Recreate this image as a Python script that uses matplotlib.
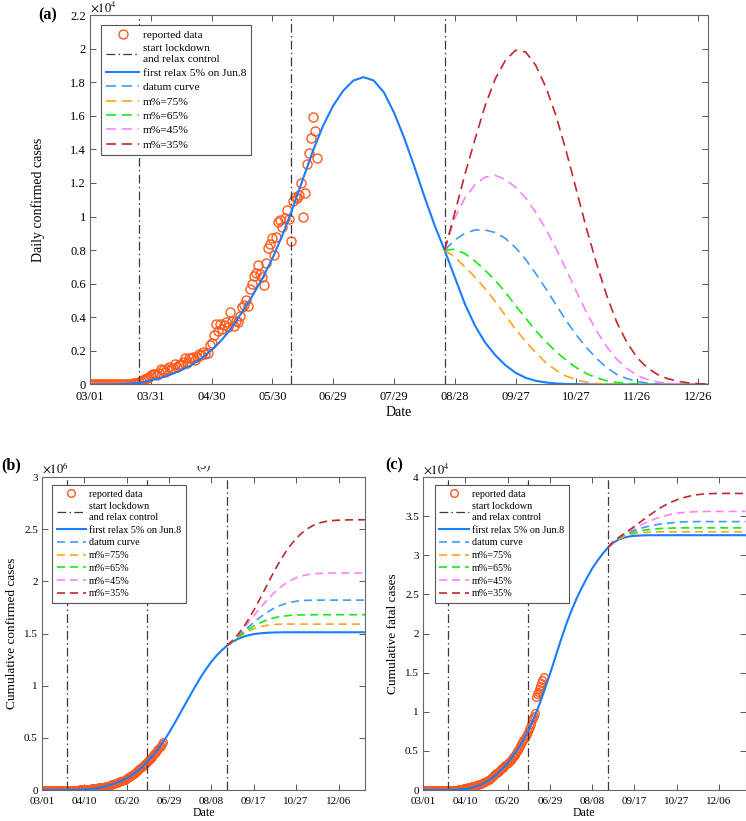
import numpy as np
import matplotlib
matplotlib.use('Agg')
import matplotlib.pyplot as plt
from matplotlib.ticker import FuncFormatter
from matplotlib.transforms import Bbox, TransformedBbox

plt.rcParams['font.family'] = ['Liberation Serif', 'DejaVu Serif']
plt.rcParams['mathtext.fontset'] = 'stix'

# ---------------- data ----------------
# day 0 = 03/01
control_days = [24, 99, 175]          # start lockdown, first relax (Jun.8), relax control

# reported daily confirmed cases, days 0..112
daily_reported = [0, 0, 2, 1, 22, 2, 1, 3, 5, 4, 13, 6, 11, 9, 20, 11, 6, 23, 14, 38,
                  50, 86, 66, 103,
                  120, 190, 250, 300, 400, 450, 550, 600, 600, 550, 700, 900, 850, 750,
                  950, 1050, 900, 1000, 1250, 1050, 1150, 1200, 1350, 1550, 1300, 1550,
                  1600, 1650, 1450, 1650, 1800, 1750, 1950, 1800, 1850, 2350, 2500, 2950,
                  3600, 3200, 3600, 3300, 3550, 3700, 3450, 4300, 3800, 3500, 3800, 3750,
                  4050, 4600, 4750, 5050, 4700, 5700, 6000, 6450, 6650, 7100, 6550, 6400,
                  5900, 7250, 8150, 8350, 8750, 7700, 8800, 9700, 9800, 9400, 9900, 10400,
                  9850, 8550, 10950, 11150, 11100, 11300, 12000, 10000, 11400, 13100,
                  13800, 14700, 15900, 15100, 13500]

# reported cumulative confirmed cases (thousands), days 0..114
cum_confirmed_k = [0.003, 0.003, 0.005, 0.006, 0.028, 0.030, 0.031, 0.034, 0.039, 0.043,
                   0.056, 0.062, 0.073, 0.082, 0.102, 0.113, 0.119, 0.142, 0.156, 0.194,
                   0.244, 0.330, 0.396, 0.499,
                   0.657, 0.727, 0.887, 0.987, 1.024, 1.251, 1.397,
                   2.0, 2.5, 3.0, 3.6, 4.3, 4.8, 5.3, 5.9, 6.7, 7.6, 8.4, 9.2, 10.4, 11.4,
                   12.4, 13.4, 14.4, 15.7, 17.3, 18.6, 20.1, 21.4, 23.1, 24.5, 26.3, 27.9,
                   29.4, 31.3, 33.1, 34.9,
                   37.3, 39.8, 42.5, 46.4, 49.4, 52.9, 56.3, 59.7, 62.9, 67.2, 70.8, 74.3,
                   78.0, 81.9, 85.8, 90.6, 95.7, 100.3, 106.5, 112.0, 118.2, 124.8, 131.4,
                   138.5, 144.9, 150.8, 158.1, 165.8, 173.5, 182.1, 190.5,
                   198.7, 207.6, 216.9, 226.7, 236.7, 246.6, 257.5, 265.9, 276.5, 286.6,
                   297.5, 309.0, 320.9, 332.4, 343.1, 354.1, 367.3, 380.5, 395.0, 410.5,
                   425.3, 440.2, 456.2]

# reported cumulative fatal cases, days 0..114
cum_fatal = [0, 0, 0, 0, 0, 0, 0, 0, 0, 0, 0,
             1, 2, 2, 2, 2, 3, 3, 4, 4, 4, 7, 9, 10, 11, 16, 19, 24, 27, 32, 35,
             41, 56, 62, 83, 109, 124, 149, 169, 206, 242, 273, 308, 339, 377, 414,
             452, 486, 519, 559, 603, 652, 686, 723, 780, 825, 881, 939, 1008, 1079, 1154,
             1223, 1323, 1391, 1568, 1694, 1783, 1886, 1981, 2109, 2206, 2293, 2415,
             2549, 2649, 2752, 2872, 3029, 3163, 3303, 3435, 3583, 3720, 3867, 4021,
             4167, 4337, 4531, 4706, 4971, 5164, 5394,
             5598, 5815, 6075, 6348, 6642, 6929, 7200, 7466, 7745, 8102, 8498, 8884,
             9195, 9520, 9900, 11903, 12237, 12573, 12948, 13254, 13699, 14011, 14476]

model_days = list(range(0, 306, 5))   # 0..305
fan_days = list(range(175, 306, 5))   # 175..305

# (a) daily confirmed, thousands
a_relax = [0, 0, 0.01, 0.02, 0.05, 0.1, 0.25, 0.4, 0.6, 0.85, 1.15, 1.55, 2.05, 2.65,
           3.4, 4.3, 5.25, 6.3, 7.5, 8.9, 10.5, 12.2, 13.9, 15.4, 16.6, 17.5, 18.1,
           18.3, 18.1, 17.4, 16.2, 14.7, 13.0, 11.2, 9.5, 8.0, 6.4, 4.8, 3.5, 2.5,
           1.75, 1.15, 0.7, 0.4, 0.22, 0.12, 0.06, 0.03, 0.02, 0.01,
           0, 0, 0, 0, 0, 0, 0, 0, 0, 0, 0, 0]
a_datum = [8.0, 8.6, 9.0, 9.2, 9.2, 9.05, 8.7, 8.15, 7.45, 6.6, 5.7, 4.75, 3.8, 2.95,
           2.2, 1.55, 1.0, 0.6, 0.35, 0.18, 0.08, 0.03, 0.01, 0, 0, 0, 0]
a_m75 = [8.0, 7.6, 7.0, 6.4, 5.7, 4.95, 4.1, 3.3, 2.55, 1.9, 1.3, 0.85, 0.5, 0.28,
         0.14, 0.06, 0.03, 0.01, 0, 0, 0, 0, 0, 0, 0, 0, 0]
a_m65 = [8.0, 8.05, 7.8, 7.35, 6.8, 6.2, 5.5, 4.7, 3.95, 3.2, 2.55, 1.95, 1.45, 1.0,
         0.65, 0.4, 0.22, 0.12, 0.06, 0.03, 0.01, 0, 0, 0, 0, 0, 0]
a_m45 = [8.0, 9.9, 11.1, 11.9, 12.35, 12.45, 12.2, 11.75, 11.1, 10.25, 9.25, 8.1, 6.85,
         5.55, 4.3, 3.2, 2.25, 1.5, 0.95, 0.55, 0.3, 0.15, 0.07, 0.03, 0.01, 0, 0]
a_m35 = [8.0, 10.2, 12.5, 14.6, 16.6, 18.2, 19.3, 19.9, 19.8, 19.0, 17.7, 16.0, 13.9,
         11.6, 9.3, 7.2, 5.3, 3.7, 2.5, 1.6, 1.0, 0.6, 0.35, 0.2, 0.1, 0.05, 0.02]

# (b) cumulative confirmed, millions
b_relax = [0, 0, 0, 0.0001, 0.0003, 0.0007, 0.0015, 0.003, 0.0055, 0.009, 0.014, 0.022,
           0.034, 0.05, 0.067, 0.088, 0.113, 0.143, 0.18, 0.225, 0.277, 0.334, 0.398,
           0.47, 0.55, 0.637, 0.727, 0.818, 0.909, 0.998, 1.083, 1.16, 1.23, 1.29,
           1.342, 1.385, 1.42, 1.448, 1.468, 1.483, 1.494, 1.501, 1.505, 1.508, 1.51,
           1.511, 1.512, 1.512, 1.512, 1.512, 1.512, 1.512, 1.512, 1.512, 1.512, 1.512,
           1.512, 1.512, 1.512, 1.512, 1.512, 1.512]
b_m75 = [1.385, 1.424, 1.46, 1.494, 1.523, 1.546, 1.562, 1.574, 1.582, 1.587, 1.589,
         1.59, 1.59, 1.59, 1.59, 1.59, 1.59, 1.59, 1.59, 1.59, 1.59, 1.59, 1.59, 1.59,
         1.59, 1.59, 1.59]
b_m65 = [1.385, 1.426, 1.466, 1.504, 1.54, 1.571, 1.598, 1.62, 1.638, 1.652, 1.662,
         1.669, 1.674, 1.677, 1.678, 1.679, 1.68, 1.68, 1.68, 1.68, 1.68, 1.68, 1.68,
         1.68, 1.68, 1.68, 1.68]
b_datum = [1.385, 1.428, 1.472, 1.517, 1.562, 1.606, 1.647, 1.685, 1.718, 1.746, 1.769,
           1.787, 1.8, 1.809, 1.815, 1.818, 1.819, 1.82, 1.82, 1.82, 1.82, 1.82, 1.82,
           1.82, 1.82, 1.82, 1.82]
b_m45 = [1.385, 1.43, 1.485, 1.545, 1.607, 1.67, 1.732, 1.792, 1.848, 1.898, 1.942,
         1.98, 2.01, 2.033, 2.05, 2.062, 2.07, 2.075, 2.077, 2.079, 2.08, 2.08, 2.08,
         2.08, 2.08, 2.08, 2.08]
b_m35 = [1.385, 1.432, 1.49, 1.558, 1.636, 1.723, 1.817, 1.915, 2.014, 2.11, 2.2, 2.28,
         2.35, 2.41, 2.46, 2.5, 2.53, 2.553, 2.568, 2.578, 2.583, 2.586, 2.588, 2.589,
         2.59, 2.59, 2.59]

# (c) cumulative fatal, x1e4
c_relax = [0, 0, 0, 0.0002, 0.0006, 0.0015, 0.003, 0.006, 0.012, 0.025, 0.045, 0.07,
           0.105, 0.15, 0.205, 0.27, 0.345, 0.43, 0.53, 0.64, 0.77, 0.92, 1.09, 1.28,
           1.48, 1.69, 1.9, 2.1, 2.28, 2.44, 2.58, 2.71, 2.83, 2.93, 3.02, 3.1, 3.16,
           3.2, 3.225, 3.24, 3.248, 3.252, 3.255, 3.256, 3.256, 3.256, 3.256, 3.256,
           3.256, 3.256, 3.256, 3.256, 3.256, 3.256, 3.256, 3.256, 3.256, 3.256, 3.256,
           3.256, 3.256, 3.256]
c_m75 = [3.1, 3.165, 3.205, 3.238, 3.26, 3.275, 3.285, 3.291, 3.295, 3.298, 3.299, 3.3,
         3.3, 3.3, 3.3, 3.3, 3.3, 3.3, 3.3, 3.3, 3.3, 3.3, 3.3, 3.3, 3.3, 3.3, 3.3]
c_m65 = [3.1, 3.167, 3.21, 3.25, 3.275, 3.295, 3.31, 3.322, 3.33, 3.337, 3.342, 3.345,
         3.347, 3.348, 3.349, 3.35, 3.35, 3.35, 3.35, 3.35, 3.35, 3.35, 3.35, 3.35,
         3.35, 3.35, 3.35]
c_datum = [3.1, 3.17, 3.215, 3.26, 3.29, 3.318, 3.34, 3.36, 3.375, 3.389, 3.4, 3.408,
           3.415, 3.42, 3.425, 3.428, 3.429, 3.43, 3.43, 3.43, 3.43, 3.43, 3.43, 3.43,
           3.43, 3.43, 3.43]
c_m45 = [3.1, 3.172, 3.22, 3.268, 3.305, 3.345, 3.38, 3.412, 3.44, 3.467, 3.49, 3.508,
         3.525, 3.537, 3.545, 3.55, 3.555, 3.558, 3.559, 3.56, 3.56, 3.56, 3.56, 3.56,
         3.56, 3.56, 3.56]
c_m35 = [3.1, 3.175, 3.225, 3.275, 3.32, 3.37, 3.42, 3.47, 3.52, 3.565, 3.61, 3.648,
         3.68, 3.708, 3.73, 3.748, 3.765, 3.775, 3.782, 3.786, 3.789, 3.79, 3.79, 3.79,
         3.79, 3.79, 3.79]

top_ticks = [0, 30, 60, 90, 120, 150, 180, 210, 240, 270, 300]
top_labels = ['03/01', '03/31', '04/30', '05/30', '06/29', '07/29', '08/28', '09/27',
              '10/27', '11/26', '12/26']
bottom_ticks = [0, 40, 80, 120, 160, 200, 240, 280]
bottom_labels = ['03/01', '04/10', '05/20', '06/29', '08/08', '09/17', '10/27', '12/06']

legend_labels = ['reported data', 'start lockdown\nand relax control',
                 'first relax 5% on Jun.8', 'datum curve', 'm%=75%', 'm%=65%',
                 'm%=45%', 'm%=35%']

# ---------------- style ----------------
col_data = '#ff5a1e'
col_ctrl = '#3a3a3a'
col_relax = '#1a7cff'
col_datum = '#3d9bff'
col_m75 = '#ffa31a'
col_m65 = '#14ec14'
col_m45 = '#ff80ff'
col_m35 = '#c0282d'
dashdot = (0, (7, 2.6, 1.2, 2.6))


def draw_panel(ax, data_days, data, relax, fans, ylim, yticks, xticks, xlabels,
               dash, ms, tick_fs, xpad, leg_fs, leg_space, leg_anchor):
    h_data, = ax.plot(data_days, data, 'o', mfc='none', mec=col_data, ms=ms, mew=1.0)
    h_ctrl = None
    for d in control_days:
        h_ctrl = ax.axvline(d, color=col_ctrl, lw=0.9, ls=dashdot)
    h_relax, = ax.plot(model_days, relax, '-', color=col_relax, lw=1.5)
    hs = []
    for vals, col in zip(fans, [col_datum, col_m75, col_m65, col_m45, col_m35]):
        h, = ax.plot(fan_days, vals, color=col, lw=1.2, ls=dash)
        hs.append(h)
    ax.set_xlim(0, 305)
    ax.set_ylim(*ylim)
    ax.set_xticks(xticks)
    ax.set_xticklabels(xlabels)
    ax.set_yticks(yticks)
    ax.yaxis.set_major_formatter(FuncFormatter(lambda v, p: '%g' % v))
    ax.tick_params(direction='in', top=True, right=True, length=4, width=0.7,
                   color='#555555', labelsize=tick_fs, pad=3)
    ax.tick_params(axis='x', pad=xpad)
    for s in ax.spines.values():
        s.set_color('#666666')
        s.set_linewidth(0.8)
    leg = ax.legend([h_data, h_ctrl, h_relax] + hs, legend_labels, loc='upper left',
                    bbox_to_anchor=leg_anchor, borderaxespad=0, fontsize=leg_fs,
                    handlelength=2.9, handletextpad=0.3, labelspacing=leg_space,
                    borderpad=0.45, fancybox=False, framealpha=1)
    leg.get_frame().set_edgecolor('#555555')
    leg.get_frame().set_linewidth(0.8)


fig = plt.figure(figsize=(7.46, 8.21), dpi=100)
W, H = 746.0, 821.0

ax_a = fig.add_axes([90 / W, 1 - 384.5 / H, 618 / W, 369.5 / H])
ax_b = fig.add_axes([42 / W, 1 - 790 / H, 323 / W, 313 / H])
ax_c = fig.add_axes([423 / W, 1 - 790 / H, 322.5 / W, 313 / H])

draw_panel(ax_a, range(len(daily_reported)), np.array(daily_reported) / 1e4,
           np.array(a_relax) / 10,
           [np.array(v) / 10 for v in [a_datum, a_m75, a_m65, a_m45, a_m35]],
           (0, 2.2), np.arange(0, 2.21, 0.2), top_ticks, top_labels,
           (0, (6, 3.5)), 6.5, 9, 5, 8.2, 0.38, (0.018, 0.973))

draw_panel(ax_b, range(len(cum_confirmed_k)), np.array(cum_confirmed_k) / 1e3,
           b_relax, [b_datum, b_m75, b_m65, b_m45, b_m35],
           (0, 3), np.arange(0, 3.01, 0.5), bottom_ticks, bottom_labels,
           (0, (4.8, 3)), 5.5, 8, 5, 7.3, 0.36, (0.031, 0.974))

draw_panel(ax_c, range(len(cum_fatal)), np.array(cum_fatal) / 1e4,
           c_relax, [c_datum, c_m75, c_m65, c_m45, c_m35],
           (0, 4), np.arange(0, 4.01, 0.5), bottom_ticks, bottom_labels,
           (0, (4.8, 3)), 5.5, 8, 5, 7.3, 0.36, (0.037, 0.974))

ax_a.set_ylabel('Daily confirmed cases', fontsize=10)
ax_a.yaxis.set_label_coords((45 - 90) / 618, 0.5)
ax_a.set_xlabel('Date', fontsize=10)
ax_a.xaxis.set_label_coords(0.5, (384.5 - 406) / 369.5)

ax_b.set_ylabel('Cumulative confirmed cases', fontsize=9.5)
ax_b.yaxis.set_label_coords((18 - 42) / 323, 0.5)
ax_b.set_xlabel('Date', fontsize=8.5)
ax_b.xaxis.set_label_coords(0.5, (790 - 807) / 313)

ax_c.set_ylabel('Cumulative fatal cases', fontsize=9.5)
ax_c.yaxis.set_label_coords((399 - 423) / 322.5, 0.5)
ax_c.set_xlabel('Date', fontsize=8.5)
ax_c.xaxis.set_label_coords(0.5, (790 - 807) / 313)

for ax, txt, fs in [(ax_a, r'$\times10^{4}$', 9), (ax_b, r'$\times10^{6}$', 9),
                    (ax_c, r'$\times10^{4}$', 9)]:
    ax.text(0.0, 1.0, txt, transform=ax.transAxes, ha='left', va='bottom', fontsize=fs)

fig.text(38 / W, 1 - 15 / H, '(a)', fontsize=11.5, fontweight='bold', va='center')
fig.text(1 / W, 1 - 465 / H, '(b)', fontsize=11.5, fontweight='bold', va='center')
fig.text(385 / W, 1 - 465 / H, '(c)', fontsize=11.5, fontweight='bold', va='center')

# partly hidden panel mark at the top of (b)
t = fig.text(204 / W, 1 - 466 / H, '(5)', fontsize=9, ha='center', va='center')
t.set_clip_box(TransformedBbox(Bbox([[0.2, 0.0], [0.35, 1 - 466 / H]]), fig.transFigure))
t.set_clip_on(True)

fig.savefig('out.png', dpi=100)
